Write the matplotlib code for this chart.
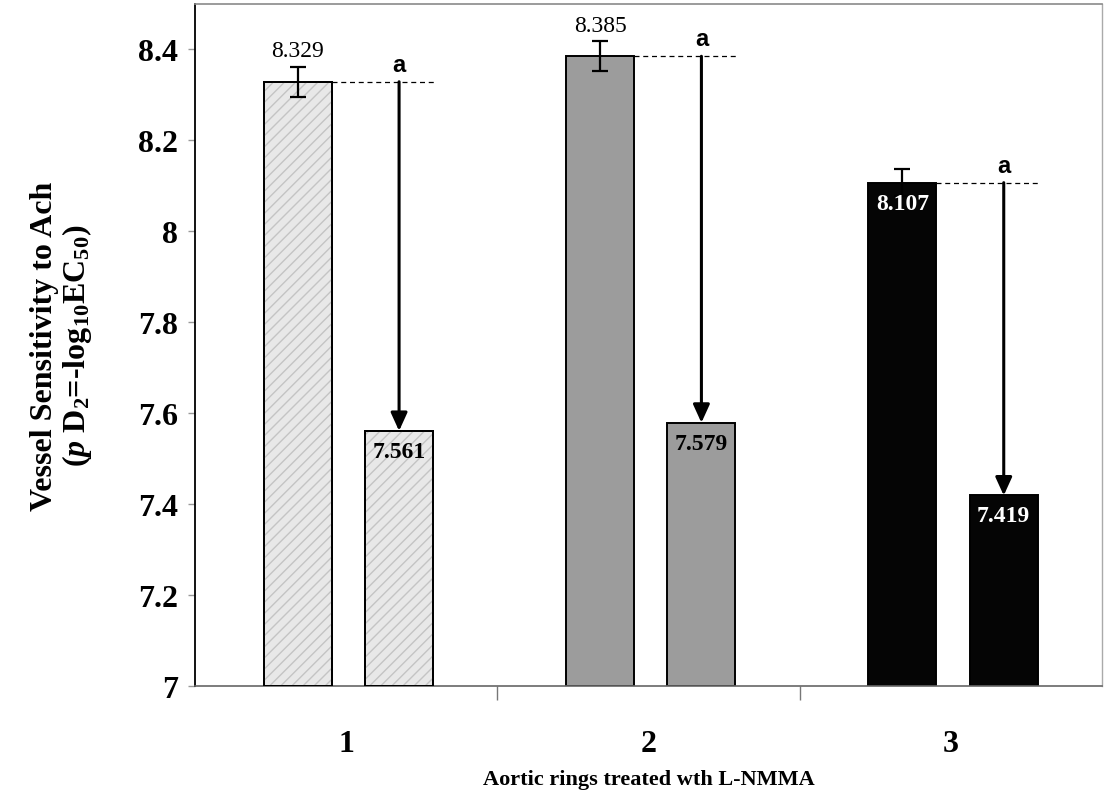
import matplotlib
matplotlib.use("Agg")
import matplotlib.pyplot as plt
import numpy as np

plt.rcParams.update({
    "font.family": "Liberation Serif",
    "font.weight": "bold",
    "mathtext.fontset": "custom",
    "mathtext.rm": "Liberation Serif:bold",
    "mathtext.it": "Liberation Serif:italic:bold",
    "mathtext.bf": "Liberation Serif:bold",
})

# pD2 values per aortic ring group, before and after L-NMMA
groups = ["1", "2", "3"]
control = [8.329, 8.385, 8.107]
control_err = [0.033, 0.033, 0.030]
treated = [7.561, 7.579, 7.419]
sig_marks = ["a", "a", "a"]

fills = ["#e8e8e8", "#9c9c9c", "#050505"]
hatch_cols = ["#c4c4c4", None, None]
label_cols = ["black", "black", "white"]
top_label_inside = [False, False, True]

x = np.arange(1, len(groups) + 1)
w = 0.225
off_c, off_t = -0.16, 0.175

fig = plt.figure(figsize=(11.07, 8.03), dpi=100)
ax = fig.add_axes([195 / 1107, 1 - 687 / 803, (1102 - 195) / 1107, (687 - 5) / 803])

for i, xi in enumerate(x):
    for off, val in ((off_c, control[i]), (off_t, treated[i])):
        ax.bar(xi + off, val - 7, width=w, bottom=7, color=fills[i],
               edgecolor="black", linewidth=1.4, zorder=2)
        if hatch_cols[i]:
            ax.bar(xi + off, val - 7, width=w, bottom=7, facecolor="none",
                   edgecolor=hatch_cols[i], hatch="///", linewidth=0, zorder=2.5)
            ax.bar(xi + off, val - 7, width=w, bottom=7, facecolor="none",
                   edgecolor="black", linewidth=1.4, zorder=2.6)

    ax.errorbar(xi + off_c, control[i], yerr=control_err[i], fmt="none",
                ecolor="black", elinewidth=1.6, capsize=6, capthick=1.6, zorder=3)

    # dashed reference at the control level, arrow down to the treated bar
    ax.plot([xi + off_c + w / 2, xi + 0.29], [control[i], control[i]],
            color="black", lw=0.9, ls=(0, (4, 3)), zorder=3)
    ax.annotate("", xy=(xi + off_t, treated[i]), xytext=(xi + off_t, control[i]),
                arrowprops=dict(arrowstyle="-|>,head_length=0.55,head_width=0.25",
                                lw=2.2, color="black", shrinkA=0, shrinkB=0,
                                mutation_scale=20), zorder=4)
    ax.text(xi + off_t, control[i] + 0.013, sig_marks[i], ha="center", va="bottom",
            fontsize=17, fontweight="bold", family="Liberation Sans", zorder=4)

    if top_label_inside[i]:
        ax.text(xi + off_c, control[i] - 0.022, f"{control[i]:.3f}", ha="center",
                va="top", fontsize=17, fontweight="bold", color=label_cols[i], zorder=4)
    else:
        ax.text(xi + off_c, control[i] + control_err[i] + 0.012, f"{control[i]:.3f}",
                ha="center", va="bottom", fontsize=17, fontweight="normal",
                color=label_cols[i], zorder=4)
    ax.text(xi + off_t, treated[i] - 0.022, f"{treated[i]:.3f}", ha="center",
            va="top", fontsize=17, fontweight="bold", color=label_cols[i], zorder=4)

ax.set_ylim(7, 8.5)
ax.set_xlim(0.5, 3.5)
ax.set_yticks([7, 7.2, 7.4, 7.6, 7.8, 8, 8.2, 8.4])
ax.set_yticklabels(["7", "7.2", "7.4", "7.6", "7.8", "8", "8.2", "8.4"])
ax.set_xticks(x)
ax.set_xticklabels(groups)
ax.set_xticks([1.5, 2.5], minor=True)
ax.tick_params(axis="x", which="major", length=0, pad=31, labelsize=23)
ax.tick_params(axis="x", which="minor", length=10, width=1, color="#777777")
ax.tick_params(axis="y", length=5, width=1, color="#999999", pad=7, labelsize=23)

ax.spines["left"].set_color("black")
ax.spines["left"].set_linewidth(1.3)
ax.spines["bottom"].set_color("#666666")
ax.spines["bottom"].set_linewidth(1.2)
ax.spines["top"].set_color("#8a8a8a")
ax.spines["top"].set_linewidth(1.2)
ax.spines["right"].set_color("#aaaaaa")
ax.spines["right"].set_linewidth(1.0)

ax.set_xlabel("Aortic rings treated wth L-NMMA", fontsize=16, fontweight="bold", labelpad=8)
ax.set_ylabel("Vessel Sensitivity to Ach\n($\\mathit{p}$ D$_{2}$=-log$_{10}$EC$_{50}$)",
              fontsize=23, fontweight="bold", labelpad=32, linespacing=1.05)

fig.savefig("out.png", dpi=100)
